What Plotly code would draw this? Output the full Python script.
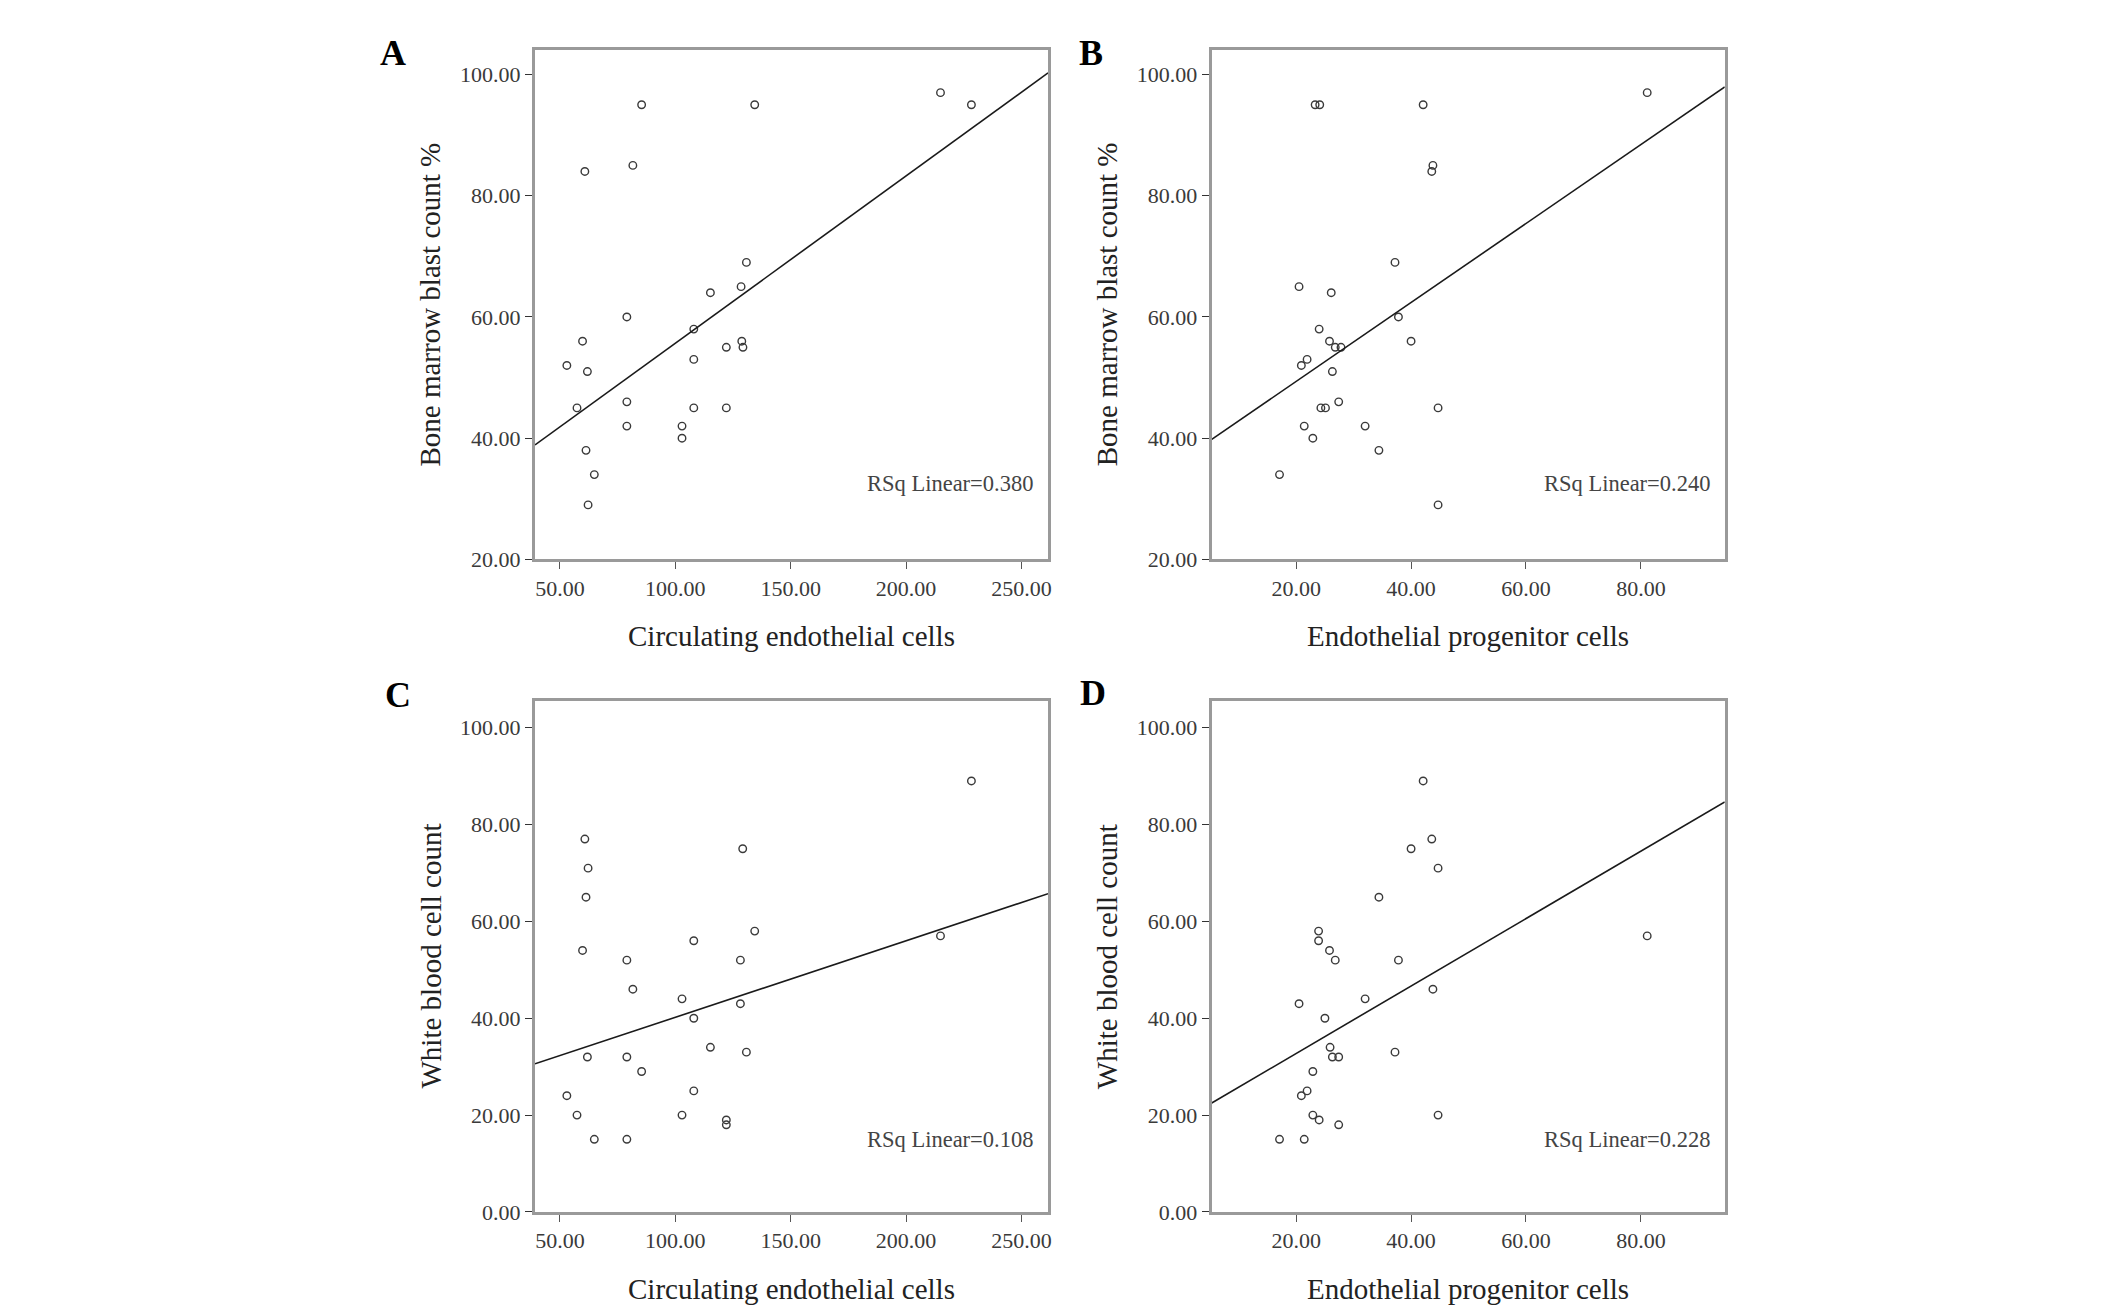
import numpy as np
import plotly.graph_objects as go
from plotly.subplots import make_subplots

# panel A: circulating endothelial cells vs bone marrow blast %
cec_a = [85.4, 134.4, 214.9, 228.3, 60.8, 81.6, 130.8, 115.2, 128.5, 79.0, 108.0, 59.8, 122.1, 128.8,
         129.3, 108.0, 53.0, 61.9, 57.4, 79.0, 108.0, 122.1, 79.0, 102.9, 102.9, 61.3, 64.9, 62.2]
blast_a = [95, 95, 97, 95, 84, 85, 69, 64, 65, 60, 58, 56, 55, 56,
           55, 53, 52, 51, 45, 46, 45, 45, 42, 42, 40, 38, 34, 29]

# panel B: endothelial progenitor cells vs bone marrow blast %
epc_b = [23.3, 24.1, 42.1, 81.1, 43.8, 43.6, 37.2, 20.5, 26.1, 37.8, 24.0, 25.8, 40.0, 26.8,
         27.8, 21.9, 20.9, 26.3, 27.4, 24.3, 25.1, 44.7, 21.4, 32.0, 22.9, 34.4, 17.1, 44.7]
blast_b = [95, 95, 95, 97, 85, 84, 69, 65, 64, 60, 58, 56, 56, 55,
           55, 53, 52, 51, 46, 45, 45, 45, 42, 42, 40, 38, 34, 29]

# panel C: circulating endothelial cells vs white blood cell count
cec_c = [228.3, 60.8, 129.2, 62.2, 61.3, 134.4, 214.9, 108.0, 59.8, 79.0, 128.2, 81.6, 102.9, 128.2,
         108.0, 115.2, 130.8, 61.9, 79.0, 85.4, 53.0, 108.0, 57.4, 102.9, 122.1, 122.1, 64.9, 79.0]
wbc_c = [89, 77, 75, 71, 65, 58, 57, 56, 54, 52, 52, 46, 44, 43,
         40, 34, 33, 32, 32, 29, 24, 25, 20, 20, 19, 18, 15, 15]

# panel D: endothelial progenitor cells vs white blood cell count
epc_d = [42.1, 43.6, 40.0, 44.7, 34.4, 81.1, 23.9, 23.9, 25.8, 26.8, 37.8, 43.8, 32.0, 20.5,
         25.0, 25.9, 26.3, 27.4, 37.2, 22.9, 21.9, 20.9, 22.9, 24.0, 44.7, 27.4, 17.1, 21.4]
wbc_d = [89, 77, 75, 71, 65, 57, 58, 56, 54, 52, 52, 46, 44, 43,
         40, 34, 32, 32, 33, 29, 25, 24, 20, 19, 20, 18, 15, 15]

# fitted lines as printed on the figure (slope, intercept)
fit_slope = [0.276, 0.651, 0.158, 0.696]
fit_intercept = [28.07, 36.35, 24.39, 18.81]

rsq_text = ["RSq Linear=0.380", "RSq Linear=0.240", "RSq Linear=0.108", "RSq Linear=0.228"]
panel_letters = ["A", "B", "C", "D"]
x_titles = ["Circulating endothelial cells", "Endothelial progenitor cells",
            "Circulating endothelial cells", "Endothelial progenitor cells"]
y_titles = ["Bone marrow blast count %", "Bone marrow blast count %",
            "White blood cell count", "White blood cell count"]

W, H = 2126, 1311
serif = "Liberation Serif"
ink = "#3a3a3a"

fig = make_subplots(rows=2, cols=2)

panels = [
    (cec_a, blast_a, 1, 1, [39.2, 261.5], [20, 104.1], [50, 100, 150, 200, 250], [20, 40, 60, 80, 100]),
    (epc_b, blast_b, 1, 2, [5.3, 94.6], [20, 104.1], [20, 40, 60, 80], [20, 40, 60, 80, 100]),
    (cec_c, wbc_c, 2, 1, [39.2, 261.5], [0, 105.5], [50, 100, 150, 200, 250], [0, 20, 40, 60, 80, 100]),
    (epc_d, wbc_d, 2, 2, [5.3, 94.6], [0, 105.5], [20, 40, 60, 80], [0, 20, 40, 60, 80, 100]),
]

# pixel boxes of the four frames
x_dom = {1: [528 / W, 1042 / W], 2: [1206 / W, 1720 / W]}
y_dom = {1: [1 - 557 / H, 1 - 42 / H], 2: [1 - 1216 / H, 1 - 700 / H]}

for i, (xs, ys, r, c, xr, yr, xt, yt) in enumerate(panels):
    fig.add_trace(go.Scatter(x=xs, y=ys, mode="markers", showlegend=False,
                             marker=dict(symbol="circle-open", size=7.5, color=ink,
                                         line=dict(width=1.4, color=ink))),
                  row=r, col=c)
    fx = np.array(xr)
    fig.add_trace(go.Scatter(x=fx, y=fit_slope[i] * fx + fit_intercept[i], mode="lines",
                             showlegend=False, line=dict(color="#1a1a1a", width=1.6)),
                  row=r, col=c)
    fig.update_xaxes(domain=x_dom[c], range=xr, tickvals=xt, tickformat=".2f",
                     showgrid=False, zeroline=False, showline=True, mirror=True,
                     linecolor="#9a9a9a", linewidth=3, ticks="outside", ticklen=7,
                     tickcolor="#555", tickfont=dict(family=serif, size=22, color=ink),
                     row=r, col=c)
    fig.update_yaxes(domain=y_dom[r], range=yr, tickvals=yt, tickformat=".2f",
                     showgrid=False, zeroline=False, showline=True, mirror=True,
                     linecolor="#9a9a9a", linewidth=3, ticks="outside", ticklen=7,
                     tickcolor="#333", tickfont=dict(family=serif, size=22, color=ink),
                     row=r, col=c)
    ax = "" if i == 0 else str(i + 1)
    # axis titles
    fig.add_annotation(text=x_titles[i], xref="x%s domain" % ax, yref="y%s domain" % ax,
                       x=0.5, y=0, yshift=-77, showarrow=False, yanchor="middle",
                       font=dict(family=serif, size=29, color="#222"))
    fig.add_annotation(text=y_titles[i], xref="x%s domain" % ax, yref="y%s domain" % ax,
                       x=0, y=0.5, xshift=-105, showarrow=False, textangle=-90,
                       xanchor="center", font=dict(family=serif, size=29, color="#222"))
    # R squared note
    rsq_y = 32.6 if r == 1 else 15.0
    fig.add_annotation(text=rsq_text[i], xref="x%s domain" % ax, yref="y" + ax,
                       x=0.975, y=rsq_y, showarrow=False, xanchor="right", yanchor="middle",
                       font=dict(family=serif, size=22.5, color="#444"))

# panel letters
letter_pos = [(386, 45), (1085, 45), (391, 694), (1087, 692)]
for letter, (px, py) in zip(panel_letters, letter_pos):
    fig.add_annotation(text="<b>%s</b>" % letter, xref="paper", yref="paper",
                       x=px / W, y=1 - py / H, showarrow=False,
                       xanchor="center", yanchor="middle",
                       font=dict(family=serif, size=36, color="black"))

fig.update_layout(width=W, height=H, margin=dict(l=0, r=0, t=0, b=0),
                  paper_bgcolor="white", plot_bgcolor="white")

fig.write_html("out.html")
